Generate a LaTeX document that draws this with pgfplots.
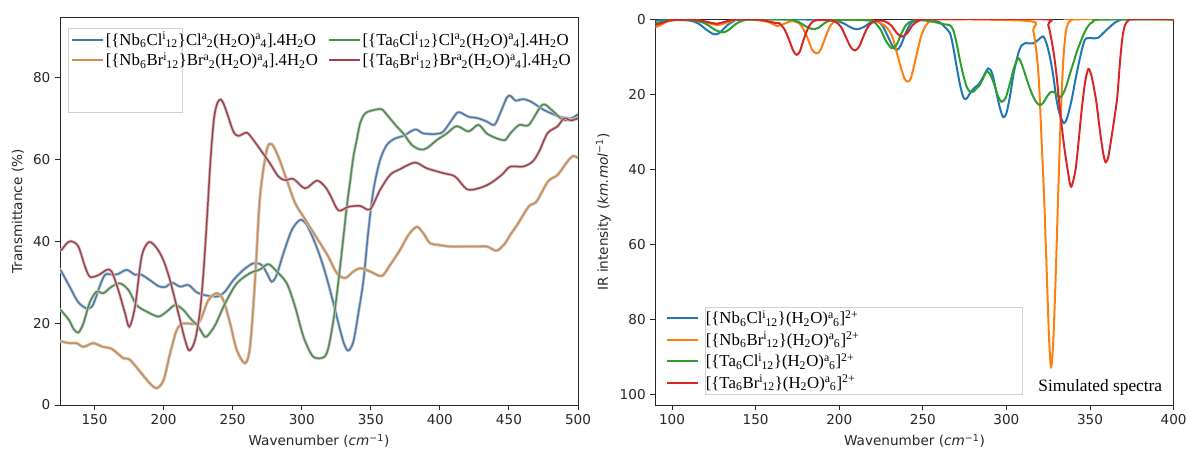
\documentclass[border=0pt]{standalone}
\usepackage{fontspec}
\setmainfont{DejaVu Sans}
\newfontfamily\serif{Liberation Serif}
\usepackage{pgfplots}
\usepackage{pgfplotstable}
\pgfplotsset{compat=1.18}

\definecolor{lblue}{RGB}{70,122,175}
\definecolor{lorange}{RGB}{212,140,72}
\definecolor{lgreen}{RGB}{75,140,75}
\definecolor{lred}{RGB}{168,60,68}
\definecolor{tblue}{HTML}{1F77B4}
\definecolor{torange}{HTML}{FF7F0E}
\definecolor{tgreen}{HTML}{2CA02C}
\definecolor{tred}{HTML}{D62728}

\newcommand{\supsub}[2]{\textsuperscript{#1}\kern-0.05em\textsubscript{#2}}
\newcommand{\sub}[1]{\textsubscript{#1}}

\pgfplotsset{
  mystyle/.style={
    scale only axis,
    axis line style={line width=0.75pt, black!85},
    tick align=outside,
    tick pos=left,
    major tick length=3.7pt,
    every tick/.style={black!85, line width=0.75pt},
    tick label style={font=\fontsize{10.2}{12}\selectfont, text=black!85},
    label style={font=\fontsize{10.2}{12}\selectfont, text=black!85},
    /pgf/number format/assume math mode=true,
    legend cell align=left,
  },
  halo/.style={black!22, line width=2.3pt, forget plot, smooth},
  lline/.style={line width=1.1pt, smooth},
  rline/.style={line width=1.5pt, smooth},
}

% ---------------- left panel: measured transmittance ----------------
\pgfplotstableread{
x y
125 33.0
126 32.6
132 28.9
138 25.2
144 23.6
148 24.0
150.5 25.8
153 28.3
157.6 31.8
163.6 31.8
167.2 32.0
173.3 33.0
179.3 31.8
184 31.8
190 30.5
197 28.9
202 28.9
206 29.9
212 28.9
218 29.3
224 27.5
230 26.8
236 26.5
240 26.6
244.5 27.7
250.5 30.5
257.8 33.0
265 34.6
271 34.2
274.7 32.2
278.3 30.1
281.9 31.8
286.7 37.0
292.8 42.7
298.8 45.2
303.6 44.0
309.7 39.5
315.7 33.8
321.7 26.5
327.8 18.3
331 14.6
333.8 13.3
337.4 15.5
341 22.4
344.7 30.5
348.3 42.7
351.9 52.5
356.7 59.8
361.6 63.5
367.6 65.1
373.6 65.7
382.1 67.3
388.1 66.3
397.8 66.2
402.6 66.8
408.6 69.6
413.4 71.5
420.7 70.4
427.9 70.0
434 69.2
439.5 68.4
443.6 71.2
448.4 75.0
451 75.5
455 74.3
460 74.7
465.8 74.1
475.6 72.0
486.7 70.4
495 70.0
500 71.0
}\LBlue

\pgfplotstableread{
x y
125 15.6
126 15.5
132 15.1
137 15.1
142 14.2
149 15.1
156 14.2
162 13.8
168 12.2
171 11.4
175 11.2
179 9.8
185 7.3
190 5.3
195 4.1
200 6.1
204.7 12.6
209.5 18.3
214 19.9
221.5 19.8
226.4 20.6
232.4 25.6
238.5 27.3
243.3 25.6
248.1 20.0
253 13.4
259 10.2
262.6 14.3
266.2 30.5
269.8 50.9
274.7 62.3
278.3 63.7
283.1 60.6
289.2 54.9
295.2 49.3
301.2 46.0
307.3 42.7
313.3 39.5
319.3 36.2
325.4 32.2
331.4 31.0
337.4 32.6
342.3 33.4
349.5 32.6
357.9 31.5
364 34.2
371.2 37.9
377.2 41.5
383.3 43.5
388.1 41.9
392.9 39.5
399 39.1
407.4 38.7
417.1 38.7
426.7 38.7
434 38.7
441.2 37.7
447.2 39.5
450.9 41.5
456 44.0
464.4 48.5
470 49.7
478.3 54.6
485.3 56.2
492.2 59.4
496.4 60.8
500 60.3
}\LOrange

\pgfplotstableread{
x y
125 23.2
126 23.0
131.4 20.8
135 18.5
138.3 17.7
141.9 19.9
146.7 25.2
151.6 27.7
156.4 27.3
162.4 28.9
168.4 29.7
174.5 28.1
180.5 24.4
187.8 22.8
196.2 21.6
202.2 22.8
208.3 24.4
214.3 23.2
220.3 20.8
225.2 19.1
228.8 17.1
231.2 16.7
237.3 19.5
244.5 24.8
253 29.7
262.6 32.2
269.8 33.1
275.9 34.4
281.9 32.6
289.2 29.7
295.2 24.0
301.2 16.7
307.3 12.2
312.1 11.4
318.1 12.6
323 20.8
327.8 33.8
332.6 48.4
335 54.5
337.4 60.6
339.8 64.7
342.3 68.8
345.9 71.2
351.9 72.0
357.9 72.2
362.8 70.4
368.8 68.0
373.6 66.3
379.7 63.5
385.7 62.4
390.5 62.7
397.8 64.7
405 66.3
412.2 68.1
420.7 66.8
427.9 68.4
434 66.3
441.2 65.1
447.2 64.7
450.9 66.3
457.5 68.4
464.4 68.4
474.2 73.3
481.1 72.0
489.4 69.6
500 70.0
}\LGreen

\pgfplotstableread{
x y
125 37.8
126.2 37.9
130 39.5
133.4 40.0
138.3 38.7
143.1 33.8
146.7 31.3
152.8 31.7
158.8 33.0
162.4 32.6
167.2 28.1
172.1 22.4
175.2 19.1
179.3 24.0
184.1 36.2
189.4 39.8
195 38.3
199.8 35.4
204.6 30.5
210.7 22.4
215.5 15.9
218.7 13.3
222.8 15.9
226.4 23.0
229 33
231.5 46
234 60
236.5 70
239 73.8
241.4 74.6
243.5 73.5
245.7 71.5
250.5 66.8
254.2 65.7
260.2 66.5
265 64.7
271 61.9
277 59.0
283.1 55.8
288 54.9
294 55.2
302.4 52.9
310.9 54.8
316.9 53.3
321 51
326.6 47.5
333.8 48.4
342.3 48.6
349.5 47.8
356.7 52.5
364 56.2
371.2 57.6
382 59.2
390.5 57.8
402.6 56.6
411 55.8
419.5 52.7
427.9 52.9
436.4 54.1
444.8 56.2
450.9 58.2
460 58.2
467 59.4
472 62
478 66.4
485 68
490 70
495 69.5
500 70
}\LRed

% ---------------- right panel: simulated spectra ----------------
\pgfplotstableread{
x y
90 0.4
95 0.2
100 0.1
110 0.3
116 1.2
120 2.6
124 3.8
126.5 4.0
129 3.4
133 1.6
137 0.5
142 0.1
190 0.1
200 0.6
205 1.7
208.5 2.5
211.5 2.6
215 2.0
219 0.8
223 0.6
226 1.8
229 4.5
232 7.2
234.5 8.2
237 6.8
240 3.4
243 1.0
247 0.2
255 0.2
260 0.8
263 2.0
266.2 3.7
268 7
270.2 12.6
272.5 18
274.6 21.1
276.5 21
278.2 19.7
281 18.2
283.1 17.5
286 15.5
289.1 13.1
291.5 14.5
294.1 19.7
296 23.5
298.1 26.1
300 25
302.1 20.6
304.5 14
307.1 9.1
309 7.0
311 6.4
316 6.4
319 5.5
322 4.6
324 6.5
326 10.0
328 15
330 21.5
332 25.5
334.4 27.7
336.5 26
339 21.5
340.9 17
342.9 12.6
344.9 8.5
346.9 5.5
349 5.0
352.9 5.1
355 4.9
357.9 3.7
360 2.8
361.9 2.0
364.9 0.9
368 0.2
372 0
400 0
}\RBlue

\pgfplotstableread{
x y
90 2.1
93 1.6
96 0.8
100 0.3
110 0.2
118 0.5
124 1.3
128 1.5
132 1.0
138 0.2
150 0.2
158 0.8
163 1.8
167 1.2
172 0.5
177 1.5
181 5
184 8.3
186.8 9.1
189 8
192 4.5
195 1.5
199 0.3
210 0.2
217 0.3
222 0.5
228 2
232 5
236 11.5
239 15.8
241 16.6
243 15.5
246 10
249 4.5
252 1.5
255 0.4
260 0
314 0.5
316 2.9
318 9
319.5 17
321 32
322.5 47
324 66
325.5 85
326.7 92.7
328 86
329.5 68
331 46
332.5 26
334 11
335.5 3.5
337 1
339 0.2
342 0
400 0
}\ROrange

\pgfplotstableread{
x y
90 1.1
95 0.6
100 0.2
112 0.3
118 0.8
122 1.7
126 2.9
130.6 3.5
134 2.8
138 1.3
142 0.4
148 0.1
170 0.1
176 0.8
180 1.9
184 2.6
187.5 2.3
191 1.1
195 0.3
205 0.1
218 0.3
222 1.2
225 3
228 5.8
231.3 7.7
234 7
237 4
240 1.5
244 0.4
250 0.3
254 0.5
258.5 0.9
262 1.3
266.2 1.6
268.2 2.9
270 6
272.2 10.9
274 14.5
276.2 18
278.2 19.3
280.2 19.3
282 18.5
284.1 17.5
286 15.8
288.1 14
290 14.5
292.1 16.6
295 20.5
297.1 22
299.5 21
302.1 17.1
304.5 13
307.1 10.4
309 11.8
311 14.4
313.5 17.8
316 20.6
318 22.2
320 22.9
322 22.3
324 20.8
326 19.6
328 19.3
330 20.0
332 20.8
334 19.8
336 17.5
338 14.5
340 11.7
342 8.8
344 6.4
346 4.2
348 2.4
350 1.2
352 0.6
356 0.1
400 0
}\RGreen

\pgfplotstableread{
x y
90 1.5
94 1.0
98 0.4
104 0.1
115 0.2
122 0.8
127 1.2
132 0.6
138 0.1
152 0.1
158 0.6
162 1.0
164 1.0
167 2.5
170 5.5
172.5 8.4
174.5 9.5
176.5 8.5
179 5
182 1.8
185 0.4
190 0.2
197 0.5
201 2
204 4.8
207 7.5
209.5 8.3
212 7.2
215 4
218 1.5
222 0.4
227 0.5
231 1.6
234.5 3.7
237.5 4.6
240.5 3.8
244 1.5
248 0.3
252 0
322 0
325 1.5
328 8.2
330 15
332 24.2
334 32
336 38.4
338.4 44.5
340 43
341.6 39.3
343.3 32
345 24.2
347 17
348.9 13.3
350.5 14.5
352 17.5
353.9 22.4
356 30
358 36
359.4 38.1
361 36.5
363 31
366.1 21.5
368 11
369.5 4.5
371 1.5
373 0.3
376 0
400 0
}\RRed

\begin{document}
\begin{tikzpicture}
\useasboundingbox (0,0) rectangle (890.25pt,337.5pt);

\begin{axis}[mystyle,
  at={(45pt,33.75pt)}, anchor=south west,
  width=388.5pt, height=290.25pt,
  xmin=125, xmax=500, ymin=0, ymax=94.5,
  xtick={150,200,...,500}, ytick={0,20,40,60,80},
  xlabel={Wavenumber (\textit{cm}\textsuperscript{−1})},
  ylabel={Transmittance (\%)},
  legend columns=2, transpose legend,
  legend image code/.code={\draw[#1, line width=1.5pt] (0pt,0pt) -- (23pt,0pt);},
  legend style={at={(rel axis cs:0.021,0.972)}, anchor=north west,
    draw=none, fill=none, inner sep=0pt, row sep=-0.3pt,
    font=\serif\fontsize{12.6}{14}\selectfont,
    nodes={inner xsep=1.5pt},
    /tikz/every even column/.append style={column sep=6pt}},
]
\draw[black!18, line width=0.75pt] (rel axis cs:0.017,0.757) rectangle (rel axis cs:0.236,0.972);
\addplot[halo] table {\LBlue};
\addplot[lblue, lline] table {\LBlue};
\addlegendentry{[\{Nb\sub{6}Cl\supsub{i}{12}\}Cl\supsub{a}{2}(H\sub{2}O)\supsub{a}{4}].4H\sub{2}O}
\addplot[halo] table {\LOrange};
\addplot[lorange, lline] table {\LOrange};
\addlegendentry{[\{Nb\sub{6}Br\supsub{i}{12}\}Br\supsub{a}{2}(H\sub{2}O)\supsub{a}{4}].4H\sub{2}O}
\addplot[halo] table {\LGreen};
\addplot[lgreen, lline] table {\LGreen};
\addlegendentry{[\{Ta\sub{6}Cl\supsub{i}{12}\}Cl\supsub{a}{2}(H\sub{2}O)\supsub{a}{4}].4H\sub{2}O}
\addplot[halo] table {\LRed};
\addplot[lred, lline] table {\LRed};
\addlegendentry{[\{Ta\sub{6}Br\supsub{i}{12}\}Br\supsub{a}{2}(H\sub{2}O)\supsub{a}{4}].4H\sub{2}O}
\end{axis}

\begin{axis}[mystyle,
  at={(491.5pt,33.75pt)}, anchor=south west,
  width=388.7pt, height=289.3pt,
  xmin=90, xmax=400, ymin=0, ymax=102.85, y dir=reverse,
  xtick={100,150,...,400}, ytick={0,20,40,60,80,100},
  xlabel={Wavenumber (\textit{cm}\textsuperscript{−1})},
  ylabel={IR intensity (\textit{km.mol}\textsuperscript{−1})},
  legend image code/.code={\draw[#1] (0pt,0pt) -- (23pt,0pt); \path (26pt,0pt);},
  legend style={at={(axis cs:96.5,76.8)}, anchor=north west,
    draw=none, fill=none, inner sep=0pt, row sep=0.45pt,
    font=\serif\fontsize{12.6}{14}\selectfont},
]
\addplot[tblue, rline] table {\RBlue};
\addlegendentry{[\{Nb\sub{6}Cl\supsub{i}{12}\}(H\sub{2}O)\supsub{a}{6}]\textsuperscript{2+}}
\addplot[torange, rline] table {\ROrange};
\addlegendentry{[\{Nb\sub{6}Br\supsub{i}{12}\}(H\sub{2}O)\supsub{a}{6}]\textsuperscript{2+}}
\addplot[tgreen, rline] table {\RGreen};
\addlegendentry{[\{Ta\sub{6}Cl\supsub{i}{12}\}(H\sub{2}O)\supsub{a}{6}]\textsuperscript{2+}}
\addplot[tred, rline] table {\RRed};
\addlegendentry{[\{Ta\sub{6}Br\supsub{i}{12}\}(H\sub{2}O)\supsub{a}{6}]\textsuperscript{2+}}
\draw[black!18, line width=0.75pt] (axis cs:120,76.9) rectangle (axis cs:309.6,100);
\node[font=\serif\fontsize{13}{15}\selectfont, anchor=base west, inner sep=0pt] at (axis cs:319,99.3) {Simulated spectra};
\end{axis}
\end{tikzpicture}
\end{document}
